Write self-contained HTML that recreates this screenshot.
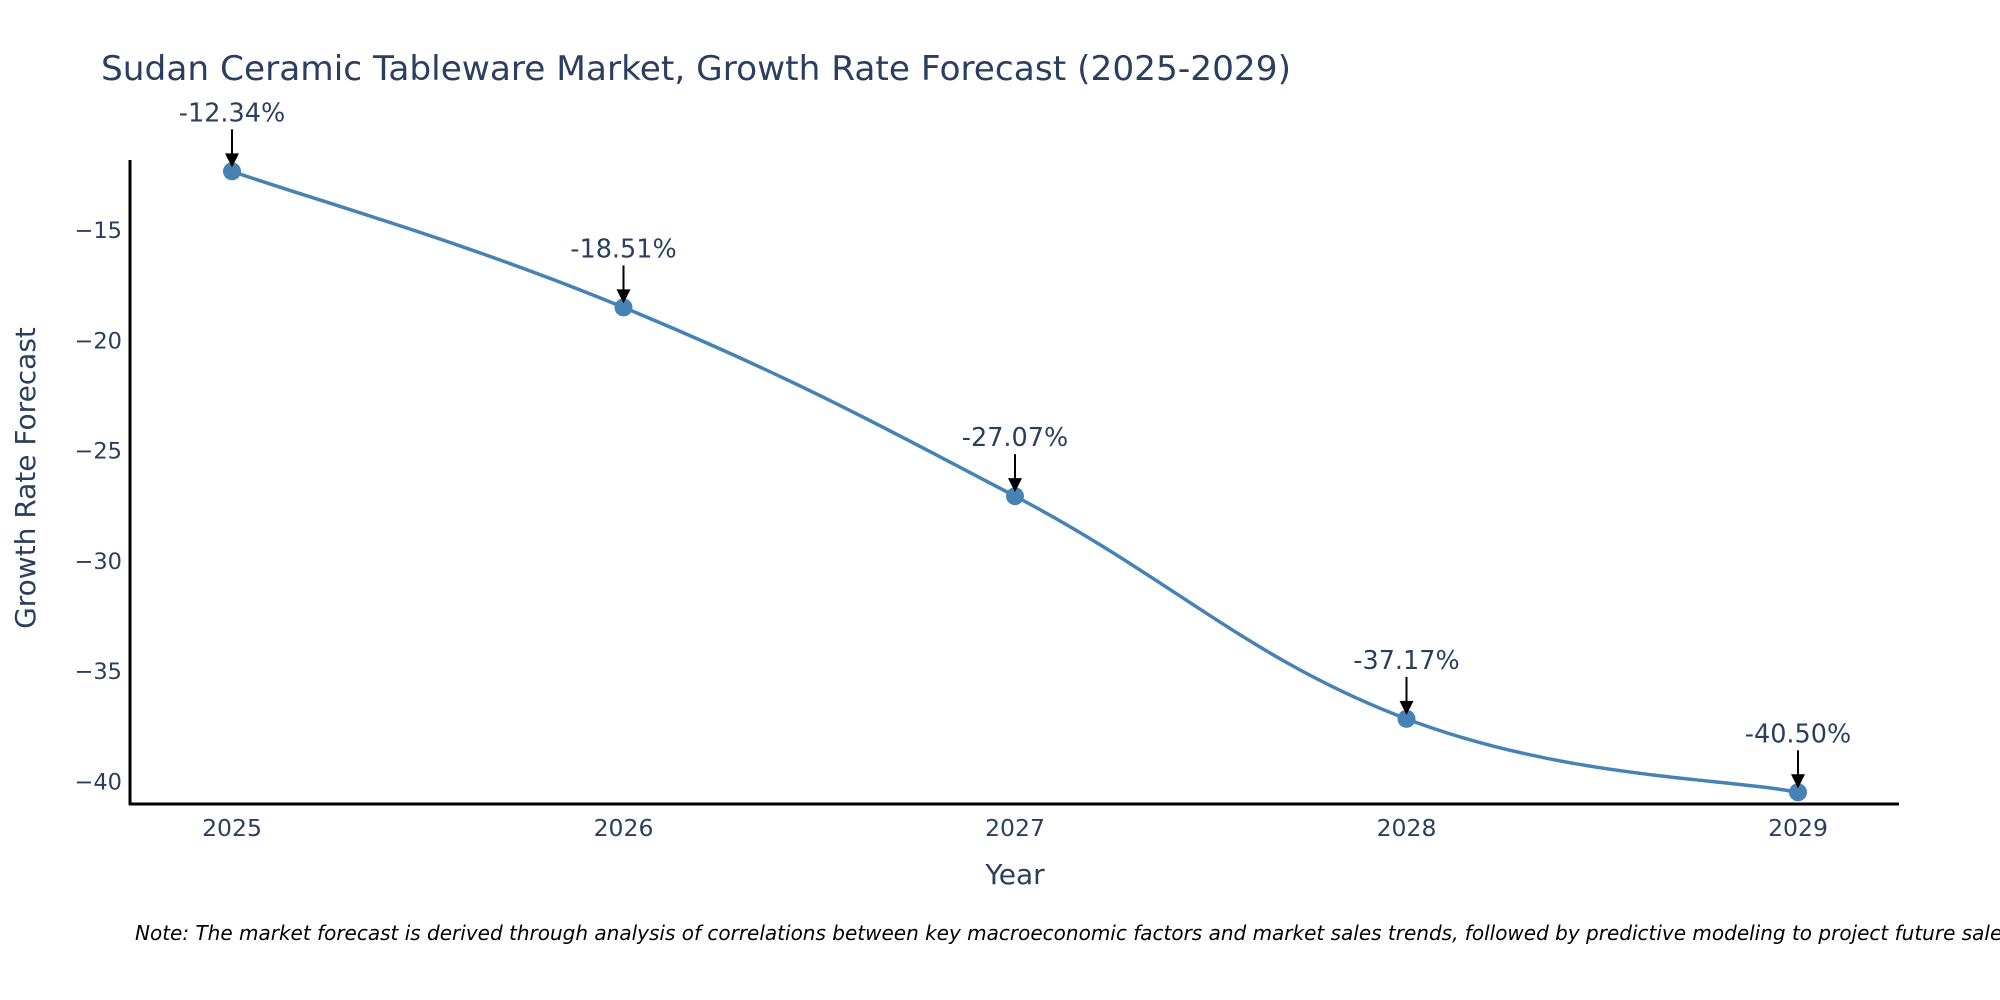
<!DOCTYPE html>
<html><head><meta charset="utf-8">
<style>
body{margin:0;background:#fff;}
svg{display:block;font-family:"DejaVu Sans","Liberation Sans",sans-serif;}
</style></head>
<body>
<svg id="chart" width="2000" height="1000" viewBox="0 0 2000 1000">
<text x="101" y="80" font-size="34" fill="#2a3f5f" textLength="1190" lengthAdjust="spacingAndGlyphs">Sudan Ceramic Tableware Market, Growth Rate Forecast (2025-2029)</text>
<text x="1015" y="884" font-size="28" fill="#2a3f5f" text-anchor="middle">Year</text>
<text transform="translate(35,478) rotate(-90)" font-size="28" fill="#2a3f5f" text-anchor="middle">Growth Rate Forecast</text>
<text x="135" y="940" font-size="20" font-style="italic" fill="#000">Note: The market forecast is derived through analysis of correlations between key macroeconomic factors and market sales trends, followed by predictive modeling to project future sales.</text>
<g id="ticks"></g>
<g id="plot"></g>
<line x1="130" y1="160" x2="130" y2="805" stroke="#000" stroke-width="3"/>
<line x1="129" y1="804" x2="1899" y2="804" stroke="#000" stroke-width="3"/>
</svg>
<script>
const years = [2025, 2026, 2027, 2028, 2029];
const values = [-12.34, -18.51, -27.07, -37.17, -40.50];
const labels = ["-12.34%", "-18.51%", "-27.07%", "-37.17%", "-40.50%"];
const yTicks = [-15, -20, -25, -30, -35, -40];
const yTickLabels = ["\u221215", "\u221220", "\u221225", "\u221230", "\u221235", "\u221240"];

const NS = "http://www.w3.org/2000/svg";
function xs(y){ return 232 + (y - 2025) * 391.5; }
function ys(v){ return 230 + (-15 - v) * 22.05; }
function mk(tag, attrs, parent){
  const e = document.createElementNS(NS, tag);
  for (const k in attrs) e.setAttribute(k, attrs[k]);
  parent.appendChild(e); return e;
}
const ticks = document.getElementById('ticks');
const plot = document.getElementById('plot');
yTicks.forEach((t, i) => {
  const el = mk('text', {x: 122, y: ys(t) + 8, 'font-size': 22.5, fill: '#2a3f5f', 'text-anchor': 'end'}, ticks);
  el.textContent = yTickLabels[i];
  
  
});
years.forEach(y => {
  const el = mk('text', {x: xs(y), y: 836, 'font-size': 23.5, fill: '#2a3f5f', 'text-anchor': 'middle'}, ticks);
  el.textContent = String(y);
  
  
});
const pts = years.map((y, i) => [xs(y), ys(values[i])]);
let d = `M${pts[0][0]},${pts[0][1]}`;
const s = 0.2;
for (let i = 0; i < pts.length - 1; i++) {
  const p0 = pts[i - 1] || pts[i], p1 = pts[i], p2 = pts[i + 1], p3 = pts[i + 2] || pts[i + 1];
  const c1 = [p1[0] + (p2[0] - p0[0]) * s, p1[1] + (p2[1] - p0[1]) * s];
  const c2 = [p2[0] - (p3[0] - p1[0]) * s, p2[1] - (p3[1] - p1[1]) * s];
  d += ` C${c1[0]},${c1[1]} ${c2[0]},${c2[1]} ${p2[0]},${p2[1]}`;
}
const line = mk('path', {d: d, fill: 'none', stroke: '#4682b4', 'stroke-width': 3.5}, plot);


pts.forEach((p, i) => {
  const c = mk('circle', {cx: p[0], cy: p[1], r: 9, fill: '#4682b4'}, plot);
  
  
  const a = mk('line', {x1: p[0], y1: p[1] - 42, x2: p[0], y2: p[1] - 16, stroke: '#000', 'stroke-width': 2}, plot);
  
  
  const h = mk('polygon', {points: `${p[0]-7},${p[1]-18} ${p[0]+7},${p[1]-18} ${p[0]},${p[1]-4}`, fill: '#000'}, plot);
  
  
  const t = mk('text', {x: p[0], y: p[1] - 50, 'font-size': 25.5, fill: '#2a3f5f', 'text-anchor': 'middle'}, plot);
  t.textContent = labels[i];
  
  
});
</script>
</body></html>
